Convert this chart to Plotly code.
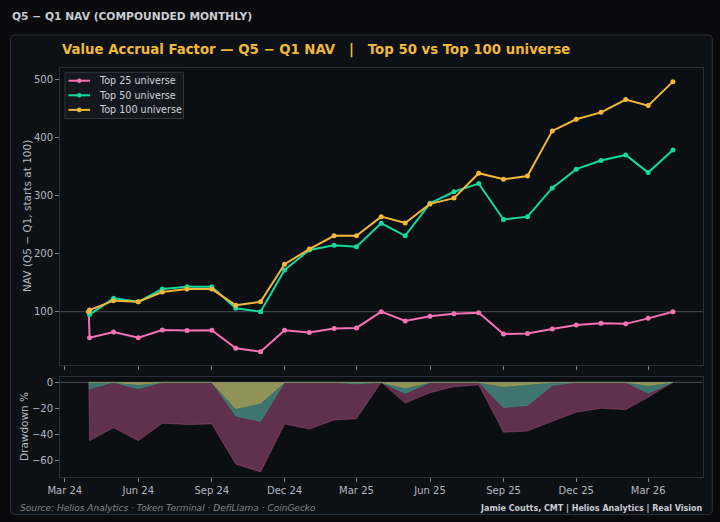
import numpy as np
import plotly.graph_objects as go

dates = ["2024-03-31", "2024-04-01", "2024-05-01", "2024-06-01", "2024-07-01", "2024-08-01",
         "2024-09-01", "2024-10-01", "2024-11-01", "2024-12-01", "2025-01-01", "2025-02-01",
         "2025-03-01", "2025-04-01", "2025-05-01", "2025-06-01", "2025-07-01", "2025-08-01",
         "2025-09-01", "2025-10-01", "2025-11-01", "2025-12-01", "2026-01-01", "2026-02-01",
         "2026-03-01", "2026-04-01"]

nav_top25 = [100, 55, 65, 55, 68.5, 67.5, 68, 37, 31, 68, 64, 71, 72, 100,
             84, 92, 96.6, 98, 61.5, 62.5, 70, 77, 80, 79, 88.5, 100]
nav_top50 = [100, 95, 123, 117, 139, 143, 143, 106, 100, 172, 206.5, 214.6, 212, 252.6,
             231, 287, 307, 321, 259, 264, 313.5, 346, 361, 370.5, 340, 379]
nav_top100 = [100, 103, 119, 117, 134, 139, 139, 111, 117, 182, 208, 231, 231, 264,
              253, 286, 296, 339, 328.5, 334, 412, 432, 444, 466, 455.6, 497]

series_names = ["Top 25 universe", "Top 50 universe", "Top 100 universe"]
line_colors = ["#f472b6", "#12d9a0", "#f2b83a"]
fill_colors = ["rgba(244,114,182,0.36)", "rgba(18,217,160,0.40)", "rgba(242,184,58,0.45)"]

W, H = 720, 522
def px(x):
    return x / W
def py(y):
    return 1 - y / H

fig = go.Figure()

navs = [nav_top25, nav_top50, nav_top100]
for name, nav, lc in zip(series_names, navs, line_colors):
    fig.add_trace(go.Scatter(x=dates, y=nav, name=name, mode="lines+markers",
                             line=dict(color=lc, width=2), marker=dict(size=5, color=lc),
                             xaxis="x", yaxis="y", showlegend=False))

for name, nav, lc, fc in zip(series_names, navs, line_colors, fill_colors):
    arr = np.array(nav, dtype=float)
    dd = (arr / np.maximum.accumulate(arr) - 1) * 100
    fig.add_trace(go.Scatter(x=dates, y=dd, mode="lines", fill="tozeroy", fillcolor=fc,
                             line=dict(color=fc, width=0.8), showlegend=False,
                             xaxis="x2", yaxis="y2"))

axis_line = "#2a2e35"
tick_font = dict(family="DejaVu Sans", size=10, color="#b4b9c1")
xrange_ = ["2024-02-24", "2026-05-08"]

common_x = dict(type="date", range=xrange_, tick0="2024-03-01", dtick="M3",
                tickformat="%b %y", showgrid=False, zeroline=False, showline=True,
                mirror=True, linecolor=axis_line, linewidth=1, ticks="outside",
                ticklen=4, tickcolor="#7c828c", tickfont=tick_font, automargin=False,
                domain=[px(60), px(702.5)])
common_y = dict(showgrid=False, zeroline=False, showline=True, mirror=True, linecolor=axis_line,
                ticks="outside", ticklen=4, tickcolor="#7c828c", tickfont=tick_font,
                automargin=False)

fig.update_layout(
    width=W, height=H, margin=dict(l=0, r=0, t=0, b=0, autoexpand=False),
    paper_bgcolor="#0a0a0c", plot_bgcolor="#0b0e12",
    font=dict(family="DejaVu Sans", color="#b4b9c1"),
    xaxis=dict(common_x, showticklabels=False, anchor="y"),
    yaxis=dict(common_y, domain=[py(365), py(68.3)], range=[8, 520],
               tickvals=[100, 200, 300, 400, 500], anchor="x"),
    xaxis2=dict(common_x, anchor="y2", matches="x"),
    yaxis2=dict(common_y, domain=[py(476.7), py(377.3)], range=[-72.6, 3.85],
                tickvals=[0, -20, -40, -60], anchor="x2"),
    showlegend=False,
)

# card with rounded corners
x0, x1, y0, y1, r = 10.5, 712.3, 35, 514.5, 4
path = (f"M {px(x0 + r)},{py(y0)} L {px(x1 - r)},{py(y0)} Q {px(x1)},{py(y0)} {px(x1)},{py(y0 + r)} "
        f"L {px(x1)},{py(y1 - r)} Q {px(x1)},{py(y1)} {px(x1 - r)},{py(y1)} "
        f"L {px(x0 + r)},{py(y1)} Q {px(x0)},{py(y1)} {px(x0)},{py(y1 - r)} "
        f"L {px(x0)},{py(y0 + r)} Q {px(x0)},{py(y0)} {px(x0 + r)},{py(y0)} Z")
fig.add_shape(type="path", path=path, xref="paper", yref="paper", layer="below",
              fillcolor="#0d1014", line=dict(color="#2c3037", width=1))
for xr, yr in [("x domain", "y domain"), ("x2 domain", "y2 domain")]:
    fig.add_shape(type="rect", xref=xr, yref=yr, x0=0, x1=1, y0=0, y1=1, layer="below",
                  fillcolor="#0b0e12", line=dict(width=0))

# reference lines
fig.add_shape(type="line", xref="x domain", yref="y", x0=0, x1=1, y0=100, y1=100,
              line=dict(color="#4a4e56", width=1), layer="below")
fig.add_shape(type="line", xref="x2 domain", yref="y2", x0=0, x1=1, y0=0, y1=0,
              line=dict(color="#4a4e56", width=1), layer="below")

# legend (drawn as layout decoration)
fig.add_shape(type="rect", xref="paper", yref="paper", x0=px(65), x1=px(183.5), y0=py(118.5),
              y1=py(72.3), fillcolor="#14171d", line=dict(color="#30343b", width=1))
for i, (name, lc) in enumerate(zip(series_names, line_colors)):
    yc = 80.7 + i * 14.6
    fig.add_shape(type="line", xref="paper", yref="paper", x0=px(68.5), x1=px(90), y0=py(yc), y1=py(yc),
                  line=dict(color=lc, width=2))
    fig.add_shape(type="circle", xref="paper", yref="paper", x0=px(79.3 - 2.3), x1=px(79.3 + 2.3),
                  y0=py(yc + 2.3), y1=py(yc - 2.3), fillcolor=lc, line=dict(width=0))
    fig.add_annotation(text=name, xref="paper", yref="paper", x=px(96.5), y=py(yc),
                       xanchor="left", yanchor="middle", showarrow=False,
                       font=dict(family="DejaVu Sans", size=9.6, color="#d2d6dc"))

# axis titles
fig.add_annotation(text="NAV (Q5 − Q1, starts at 100)", xref="paper", yref="paper", x=px(26.5),
                   y=py(216.5), textangle=-90, showarrow=False, xanchor="center", yanchor="middle",
                   font=dict(family="DejaVu Sans", size=10.5, color="#b4b9c1"))
fig.add_annotation(text="Drawdown %", xref="paper", yref="paper", x=px(24), y=py(427),
                   textangle=-90, showarrow=False, xanchor="center", yanchor="middle",
                   font=dict(family="DejaVu Sans", size=10.5, color="#b4b9c1"))

fig.add_annotation(text="<b>Q5 − Q1 NAV (COMPOUNDED MONTHLY)</b>", xref="paper", yref="paper",
                   x=px(10), y=py(16), xanchor="left", yanchor="middle", showarrow=False,
                   font=dict(family="DejaVu Sans", size=10.7, color="#c9cdd3"))
fig.add_annotation(text="<b>Value Accrual Factor — Q5 − Q1 NAV   |   Top 50 vs Top 100 universe</b>",
                   xref="paper", yref="paper", x=px(60), y=py(50), xanchor="left", yanchor="middle",
                   showarrow=False, font=dict(family="DejaVu Sans", size=13.3, color="#f0b93b"))
fig.add_annotation(text="<i>Source: Helios Analytics · Token Terminal · DefiLlama · CoinGecko</i>",
                   xref="paper", yref="paper", x=px(17.5), y=py(508), xanchor="left", yanchor="middle",
                   showarrow=False, font=dict(family="DejaVu Sans", size=9, color="#80858d"))
fig.add_annotation(text="<b>Jamie Coutts, CMT | Helios Analytics | Real Vision</b>",
                   xref="paper", yref="paper", x=px(704.5), y=py(508), xanchor="right", yanchor="middle",
                   showarrow=False, font=dict(family="DejaVu Sans", size=8, color="#c9cdd3"))

fig.write_html("out.html")
